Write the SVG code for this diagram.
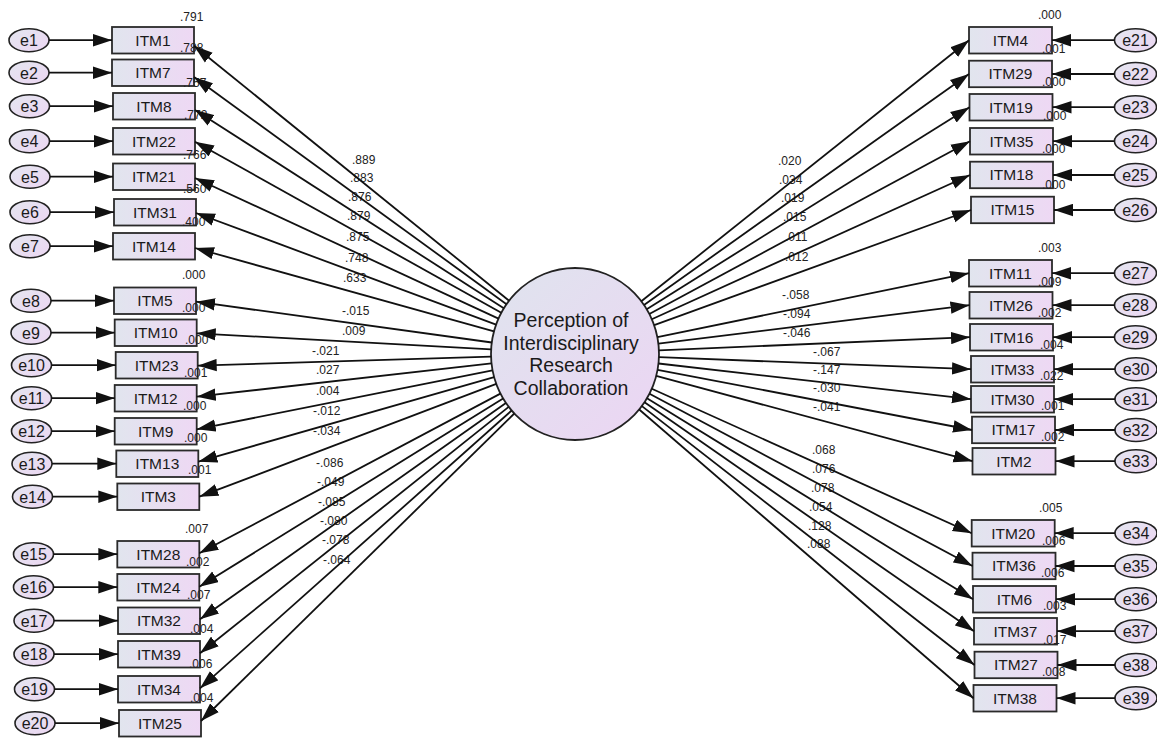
<svg xmlns="http://www.w3.org/2000/svg" width="1157" height="740" viewBox="0 0 1157 740">
<defs>
<linearGradient id="gBox" x1="0" y1="0" x2="1" y2="0"><stop offset="0" stop-color="#e1e5ee"/><stop offset="1" stop-color="#eed8f4"/></linearGradient>
<linearGradient id="gCirc" x1="0" y1="0" x2="1" y2="1"><stop offset="0" stop-color="#dfe4ee"/><stop offset="1" stop-color="#ecd5f3"/></linearGradient>
<linearGradient id="gErr" x1="0" y1="0" x2="1" y2="1"><stop offset="0" stop-color="#e4e6f0"/><stop offset="1" stop-color="#ecd6f2"/></linearGradient>
<marker id="ah" markerUnits="userSpaceOnUse" markerWidth="19" markerHeight="13" refX="19" refY="6.5" orient="auto"><path d="M0,0.3 L19,6.5 L0,12.7 z" fill="#111"/></marker>
<style>
.box{fill:url(#gBox);stroke:#2a2a2a;stroke-width:1.8}
.err{fill:url(#gErr);stroke:#222;stroke-width:1.6}
.lat{fill:url(#gCirc);stroke:#222;stroke-width:1.8}
.t{font-family:"Liberation Sans",Arial,sans-serif;font-size:15.5px;fill:#1a1a1a;text-anchor:middle}
.te{font-family:"Liberation Sans",Arial,sans-serif;font-size:16px;fill:#1a1a1a;text-anchor:middle}
.tl{font-family:"Liberation Sans",Arial,sans-serif;font-size:19.5px;fill:#1a1a1a;text-anchor:middle}
.n{font-family:"Liberation Sans",Arial,sans-serif;font-size:12px;fill:#222}
.c line{stroke:#111;stroke-width:1.8;marker-end:url(#ah)}
</style>
</defs>
<rect width="1157" height="740" fill="#fff"/>

<g id="F1">
<ellipse class="lat" cx="575" cy="354" rx="84" ry="86"/>
<text class="tl" x="571" y="327">Perception of</text>
<text class="tl" x="571" y="349.5">Interdisciplinary</text>
<text class="tl" x="571" y="372">Research</text>
<text class="tl" x="571" y="394.5">Collaboration</text>
</g>

<!-- left observed -->
<g id="ITM1"><rect class="box" x="112" y="27" width="82" height="26.5"/><text class="t" x="153" y="45.7">ITM1</text><text class="n" x="180" y="21">.791</text></g>
<g id="ITM7"><rect class="box" x="112" y="59.5" width="82" height="26.5"/><text class="t" x="153" y="78.2">ITM7</text><text class="n" x="180" y="52">.788</text></g>
<g id="ITM8"><rect class="box" x="113" y="93" width="82" height="26.5"/><text class="t" x="154" y="111.7">ITM8</text><text class="n" x="183" y="87">.757</text></g>
<g id="ITM22"><rect class="box" x="113" y="128" width="82" height="26.5"/><text class="t" x="154" y="146.7">ITM22</text><text class="n" x="184" y="119">.772</text></g>
<g id="ITM21"><rect class="box" x="113" y="163.5" width="82" height="26.5"/><text class="t" x="154" y="182.2">ITM21</text><text class="n" x="183" y="159">.766</text></g>
<g id="ITM31"><rect class="box" x="114" y="199" width="82" height="26.5"/><text class="t" x="155" y="217.7">ITM31</text><text class="n" x="183" y="193">.560</text></g>
<g id="ITM14"><rect class="box" x="113" y="233" width="82" height="26.5"/><text class="t" x="154" y="251.7">ITM14</text><text class="n" x="182" y="226">.400</text></g>
<g id="ITM5"><rect class="box" x="114" y="287.5" width="82" height="26.5"/><text class="t" x="155" y="306.2">ITM5</text><text class="n" x="182" y="279">.000</text></g>
<g id="ITM10"><rect class="box" x="114.7" y="319.5" width="82" height="26.5"/><text class="t" x="155.7" y="338.2">ITM10</text><text class="n" x="182" y="312">.000</text></g>
<g id="ITM23"><rect class="box" x="115.7" y="352" width="82" height="26.5"/><text class="t" x="156.7" y="370.7">ITM23</text><text class="n" x="185" y="344">.000</text></g>
<g id="ITM12"><rect class="box" x="114.7" y="385" width="82" height="26.5"/><text class="t" x="155.7" y="403.7">ITM12</text><text class="n" x="184" y="377">.001</text></g>
<g id="ITM9"><rect class="box" x="114.7" y="418" width="82" height="26.5"/><text class="t" x="155.7" y="436.7">ITM9</text><text class="n" x="183" y="410">.000</text></g>
<g id="ITM13"><rect class="box" x="116.3" y="450.5" width="82" height="26.5"/><text class="t" x="157.3" y="469.2">ITM13</text><text class="n" x="184" y="442">.000</text></g>
<g id="ITM3"><rect class="box" x="117.3" y="483.5" width="82" height="26.5"/><text class="t" x="158.3" y="502.2">ITM3</text><text class="n" x="188" y="474">.001</text></g>
<g id="ITM28"><rect class="box" x="117.3" y="541" width="82" height="26.5"/><text class="t" x="158.3" y="559.7">ITM28</text><text class="n" x="185" y="533">.007</text></g>
<g id="ITM24"><rect class="box" x="117.3" y="574" width="82" height="26.5"/><text class="t" x="158.3" y="592.7">ITM24</text><text class="n" x="186" y="566">.002</text></g>
<g id="ITM32"><rect class="box" x="118" y="607.5" width="82" height="26.5"/><text class="t" x="159" y="626.2">ITM32</text><text class="n" x="187" y="599">.007</text></g>
<g id="ITM39"><rect class="box" x="118" y="641" width="82" height="26.5"/><text class="t" x="159" y="659.7">ITM39</text><text class="n" x="190" y="633">.004</text></g>
<g id="ITM34"><rect class="box" x="118" y="676" width="82" height="26.5"/><text class="t" x="159" y="694.7">ITM34</text><text class="n" x="189" y="668">.006</text></g>
<g id="ITM25"><rect class="box" x="119" y="710" width="82" height="26.5"/><text class="t" x="160" y="728.7">ITM25</text><text class="n" x="190" y="702">.004</text></g>

<!-- left errors -->
<g id="e1"><ellipse class="err" cx="29" cy="40.2" rx="20" ry="11.5"/><text class="te" x="29" y="46">e1</text></g>
<g id="e2"><ellipse class="err" cx="29" cy="72.7" rx="20" ry="11.5"/><text class="te" x="29" y="78.5">e2</text></g>
<g id="e3"><ellipse class="err" cx="29.5" cy="106.2" rx="20" ry="11.5"/><text class="te" x="29.5" y="112">e3</text></g>
<g id="e4"><ellipse class="err" cx="29.5" cy="141.2" rx="20" ry="11.5"/><text class="te" x="29.5" y="147">e4</text></g>
<g id="e5"><ellipse class="err" cx="30" cy="176.7" rx="20" ry="11.5"/><text class="te" x="30" y="182.5">e5</text></g>
<g id="e6"><ellipse class="err" cx="30" cy="212.2" rx="20" ry="11.5"/><text class="te" x="30" y="218">e6</text></g>
<g id="e7"><ellipse class="err" cx="30" cy="246.2" rx="20" ry="11.5"/><text class="te" x="30" y="252">e7</text></g>
<g id="e8"><ellipse class="err" cx="31" cy="300.7" rx="20" ry="11.5"/><text class="te" x="31" y="306.5">e8</text></g>
<g id="e9"><ellipse class="err" cx="31" cy="332.7" rx="20" ry="11.5"/><text class="te" x="31" y="338.5">e9</text></g>
<g id="e10"><ellipse class="err" cx="31.5" cy="365.2" rx="20" ry="11.5"/><text class="te" x="31.5" y="371">e10</text></g>
<g id="e11"><ellipse class="err" cx="31.5" cy="398.2" rx="20" ry="11.5"/><text class="te" x="31.5" y="404">e11</text></g>
<g id="e12"><ellipse class="err" cx="31.5" cy="431.2" rx="20" ry="11.5"/><text class="te" x="31.5" y="437">e12</text></g>
<g id="e13"><ellipse class="err" cx="32" cy="463.7" rx="20" ry="11.5"/><text class="te" x="32" y="469.5">e13</text></g>
<g id="e14"><ellipse class="err" cx="32.5" cy="496.7" rx="20" ry="11.5"/><text class="te" x="32.5" y="502.5">e14</text></g>
<g id="e15"><ellipse class="err" cx="33.5" cy="554.2" rx="20" ry="11.5"/><text class="te" x="33.5" y="560">e15</text></g>
<g id="e16"><ellipse class="err" cx="33.5" cy="587.2" rx="20" ry="11.5"/><text class="te" x="33.5" y="593">e16</text></g>
<g id="e17"><ellipse class="err" cx="34" cy="620.7" rx="20" ry="11.5"/><text class="te" x="34" y="626.5">e17</text></g>
<g id="e18"><ellipse class="err" cx="34" cy="654.2" rx="20" ry="11.5"/><text class="te" x="34" y="660">e18</text></g>
<g id="e19"><ellipse class="err" cx="34.5" cy="689.2" rx="20" ry="11.5"/><text class="te" x="34.5" y="695">e19</text></g>
<g id="e20"><ellipse class="err" cx="35" cy="723.2" rx="20" ry="11.5"/><text class="te" x="35" y="729">e20</text></g>

<!-- right observed -->
<g id="ITM4"><rect class="box" x="969" y="27" width="83" height="26.5"/><text class="t" x="1010.5" y="45.7">ITM4</text><text class="n" x="1038" y="19">.000</text></g>
<g id="ITM29"><rect class="box" x="969" y="60.7" width="83" height="26.5"/><text class="t" x="1010.5" y="79.4">ITM29</text><text class="n" x="1042" y="53">.001</text></g>
<g id="ITM19"><rect class="box" x="969.5" y="94" width="83" height="26.5"/><text class="t" x="1011" y="112.7">ITM19</text><text class="n" x="1042" y="86">.000</text></g>
<g id="ITM35"><rect class="box" x="970" y="128" width="83" height="26.5"/><text class="t" x="1011.5" y="146.7">ITM35</text><text class="n" x="1043" y="120">.000</text></g>
<g id="ITM18"><rect class="box" x="970" y="161.7" width="83" height="26.5"/><text class="t" x="1011.5" y="180.4">ITM18</text><text class="n" x="1042" y="153">.000</text></g>
<g id="ITM15"><rect class="box" x="971" y="196.7" width="83" height="26.5"/><text class="t" x="1012.5" y="215.4">ITM15</text><text class="n" x="1042" y="189">.000</text></g>
<g id="ITM11"><rect class="box" x="969" y="260" width="83" height="26.5"/><text class="t" x="1010.5" y="278.7">ITM11</text><text class="n" x="1038" y="252">.003</text></g>
<g id="ITM26"><rect class="box" x="969.5" y="292" width="83" height="26.5"/><text class="t" x="1011" y="310.7">ITM26</text><text class="n" x="1038" y="286">.009</text></g>
<g id="ITM16"><rect class="box" x="970" y="324" width="83" height="26.5"/><text class="t" x="1011.5" y="342.7">ITM16</text><text class="n" x="1038" y="317">.002</text></g>
<g id="ITM33"><rect class="box" x="971" y="356" width="83" height="26.5"/><text class="t" x="1012.5" y="374.7">ITM33</text><text class="n" x="1040" y="349">.004</text></g>
<g id="ITM30"><rect class="box" x="971" y="386" width="83" height="26.5"/><text class="t" x="1012.5" y="404.7">ITM30</text><text class="n" x="1040" y="380">.022</text></g>
<g id="ITM17"><rect class="box" x="972" y="416.7" width="83" height="26.5"/><text class="t" x="1013.5" y="435.4">ITM17</text><text class="n" x="1041" y="410">.001</text></g>
<g id="ITM2"><rect class="box" x="972.5" y="448" width="83" height="26.5"/><text class="t" x="1014" y="466.7">ITM2</text><text class="n" x="1041" y="441">.002</text></g>
<g id="ITM20"><rect class="box" x="971.7" y="520" width="83" height="26.5"/><text class="t" x="1013.2" y="538.7">ITM20</text><text class="n" x="1039" y="512">.005</text></g>
<g id="ITM36"><rect class="box" x="972.5" y="552.7" width="83" height="26.5"/><text class="t" x="1014" y="571.4">ITM36</text><text class="n" x="1042" y="545">.006</text></g>
<g id="ITM6"><rect class="box" x="973" y="586" width="83" height="26.5"/><text class="t" x="1014.5" y="604.7">ITM6</text><text class="n" x="1041" y="577">.006</text></g>
<g id="ITM37"><rect class="box" x="974" y="618" width="83" height="26.5"/><text class="t" x="1015.5" y="636.7">ITM37</text><text class="n" x="1043" y="610">.003</text></g>
<g id="ITM27"><rect class="box" x="974.5" y="651.7" width="83" height="26.5"/><text class="t" x="1016" y="670.4">ITM27</text><text class="n" x="1043" y="644">.017</text></g>
<g id="ITM38"><rect class="box" x="973.5" y="685" width="83" height="26.5"/><text class="t" x="1015" y="703.7">ITM38</text><text class="n" x="1042" y="676">.008</text></g>

<!-- right errors -->
<g id="e21"><ellipse class="err" cx="1135.5" cy="40.2" rx="21" ry="11.5"/><text class="te" x="1135.5" y="46">e21</text></g>
<g id="e22"><ellipse class="err" cx="1135.5" cy="74" rx="21" ry="11.5"/><text class="te" x="1135.5" y="79.8">e22</text></g>
<g id="e23"><ellipse class="err" cx="1135.5" cy="107.2" rx="21" ry="11.5"/><text class="te" x="1135.5" y="113">e23</text></g>
<g id="e24"><ellipse class="err" cx="1135.5" cy="141.2" rx="21" ry="11.5"/><text class="te" x="1135.5" y="147">e24</text></g>
<g id="e25"><ellipse class="err" cx="1135.5" cy="175" rx="21" ry="11.5"/><text class="te" x="1135.5" y="180.8">e25</text></g>
<g id="e26"><ellipse class="err" cx="1135.5" cy="210" rx="21" ry="11.5"/><text class="te" x="1135.5" y="215.8">e26</text></g>
<g id="e27"><ellipse class="err" cx="1135.5" cy="273.2" rx="21" ry="11.5"/><text class="te" x="1135.5" y="279">e27</text></g>
<g id="e28"><ellipse class="err" cx="1135.5" cy="305.2" rx="21" ry="11.5"/><text class="te" x="1135.5" y="311">e28</text></g>
<g id="e29"><ellipse class="err" cx="1135.5" cy="337.2" rx="21" ry="11.5"/><text class="te" x="1135.5" y="343">e29</text></g>
<g id="e30"><ellipse class="err" cx="1136" cy="369.2" rx="21" ry="11.5"/><text class="te" x="1136" y="375">e30</text></g>
<g id="e31"><ellipse class="err" cx="1136" cy="399.2" rx="21" ry="11.5"/><text class="te" x="1136" y="405">e31</text></g>
<g id="e32"><ellipse class="err" cx="1136" cy="430" rx="21" ry="11.5"/><text class="te" x="1136" y="435.8">e32</text></g>
<g id="e33"><ellipse class="err" cx="1136" cy="461.2" rx="21" ry="11.5"/><text class="te" x="1136" y="467">e33</text></g>
<g id="e34"><ellipse class="err" cx="1136" cy="533.2" rx="21" ry="11.5"/><text class="te" x="1136" y="539">e34</text></g>
<g id="e35"><ellipse class="err" cx="1136" cy="566" rx="21" ry="11.5"/><text class="te" x="1136" y="571.8">e35</text></g>
<g id="e36"><ellipse class="err" cx="1136" cy="599.2" rx="21" ry="11.5"/><text class="te" x="1136" y="605">e36</text></g>
<g id="e37"><ellipse class="err" cx="1136" cy="631.2" rx="21" ry="11.5"/><text class="te" x="1136" y="637">e37</text></g>
<g id="e38"><ellipse class="err" cx="1136" cy="665" rx="21" ry="11.5"/><text class="te" x="1136" y="670.8">e38</text></g>
<g id="e39"><ellipse class="err" cx="1136" cy="698.2" rx="21" ry="11.5"/><text class="te" x="1136" y="704">e39</text></g>

<!-- path coefficients -->
<g id="coefficients">
<text class="n" x="352" y="164">.889</text><text class="n" x="350" y="182">.883</text><text class="n" x="348" y="201">.876</text><text class="n" x="347" y="220">.879</text><text class="n" x="346" y="241">.875</text><text class="n" x="345" y="262">.748</text><text class="n" x="343" y="282">.633</text>
<text class="n" x="342" y="315">-.015</text><text class="n" x="342" y="335">.009</text><text class="n" x="312" y="355">-.021</text><text class="n" x="316" y="374">.027</text><text class="n" x="316" y="395">.004</text><text class="n" x="313" y="415">-.012</text><text class="n" x="313" y="435">-.034</text>
<text class="n" x="316" y="467">-.086</text><text class="n" x="317" y="486">-.049</text><text class="n" x="318" y="506">-.085</text><text class="n" x="320" y="525">-.080</text><text class="n" x="322" y="544">-.078</text><text class="n" x="323" y="564">-.064</text>
<text class="n" x="778" y="165">.020</text><text class="n" x="779" y="184">.034</text><text class="n" x="781" y="202">.019</text><text class="n" x="783" y="221">.015</text><text class="n" x="785" y="241">.011</text><text class="n" x="785" y="261">.012</text>
<text class="n" x="782" y="299">-.058</text><text class="n" x="783" y="318">-.094</text><text class="n" x="783" y="337">-.046</text><text class="n" x="813" y="356">-.067</text><text class="n" x="813" y="374">-.147</text><text class="n" x="813" y="392">-.030</text><text class="n" x="813" y="411">-.041</text>
<text class="n" x="812" y="454">.068</text><text class="n" x="812" y="473">.076</text><text class="n" x="811" y="492">.078</text><text class="n" x="809" y="511">.054</text><text class="n" x="808" y="530">.128</text><text class="n" x="807" y="548">.088</text>
</g>

<g id="connectors" class="c">
<!-- latent to left items -->
<line x1="509.1" y1="300.7" x2="194" y2="45.7"/>
<line x1="506.5" y1="304.2" x2="194" y2="77"/>
<line x1="503.8" y1="308.3" x2="195" y2="110"/>
<line x1="501.3" y1="312.8" x2="195" y2="141.7"/>
<line x1="498.5" y1="318.6" x2="195" y2="178"/>
<line x1="496.1" y1="324.6" x2="196" y2="213"/>
<line x1="494" y1="331.4" x2="195" y2="248"/>
<line x1="491.8" y1="342.5" x2="196" y2="301.7"/>
<line x1="491.1" y1="349.4" x2="196.7" y2="333.3"/>
<line x1="491" y1="356.6" x2="197.7" y2="365.7"/>
<line x1="491.5" y1="363.4" x2="196.7" y2="396.7"/>
<line x1="492.5" y1="370.4" x2="196.7" y2="429.3"/>
<line x1="494.1" y1="377.1" x2="198.3" y2="461.7"/>
<line x1="496.3" y1="383.9" x2="199.3" y2="496.7"/>
<line x1="500.4" y1="393.6" x2="199.3" y2="553.3"/>
<line x1="503.1" y1="398.5" x2="199.3" y2="586.7"/>
<line x1="505.9" y1="402.9" x2="200" y2="619.3"/>
<line x1="508.7" y1="406.9" x2="200" y2="653.3"/>
<line x1="511.6" y1="410.5" x2="200" y2="688.3"/>
<line x1="514.3" y1="413.5" x2="201" y2="721"/>
<!-- latent to right items -->
<line x1="641.3" y1="301.2" x2="969" y2="40.2"/>
<line x1="644" y1="305" x2="969" y2="74"/>
<line x1="646.7" y1="309.2" x2="969.5" y2="107.2"/>
<line x1="649.3" y1="314" x2="970" y2="141.2"/>
<line x1="651.8" y1="319.2" x2="970" y2="175"/>
<line x1="654.2" y1="325.2" x2="971" y2="210"/>
<line x1="657.4" y1="337.1" x2="969" y2="273.2"/>
<line x1="658.4" y1="343.7" x2="969.5" y2="305.2"/>
<line x1="658.9" y1="350.4" x2="970" y2="337.2"/>
<line x1="659" y1="357.2" x2="971" y2="369.2"/>
<line x1="658.5" y1="363.5" x2="971" y2="399.2"/>
<line x1="657.6" y1="369.8" x2="972" y2="430"/>
<line x1="656.2" y1="375.9" x2="972.5" y2="461.2"/>
<line x1="651.8" y1="388.7" x2="971.7" y2="533.2"/>
<line x1="649.5" y1="393.7" x2="972.5" y2="566"/>
<line x1="647" y1="398.3" x2="973" y2="599.2"/>
<line x1="644.5" y1="402.3" x2="974" y2="631.2"/>
<line x1="641.9" y1="406.1" x2="974.5" y2="665"/>
<line x1="639.2" y1="409.5" x2="973.5" y2="698.2"/>
<!-- left errors to items -->
<line x1="49" y1="40.2" x2="112" y2="40.2"/>
<line x1="49" y1="72.7" x2="112" y2="72.7"/>
<line x1="49.5" y1="106.2" x2="113" y2="106.2"/>
<line x1="49.5" y1="141.2" x2="113" y2="141.2"/>
<line x1="50" y1="176.7" x2="113" y2="176.7"/>
<line x1="50" y1="212.2" x2="114" y2="212.2"/>
<line x1="50" y1="246.2" x2="113" y2="246.2"/>
<line x1="51" y1="300.7" x2="114" y2="300.7"/>
<line x1="51" y1="332.7" x2="114.7" y2="332.7"/>
<line x1="51.5" y1="365.2" x2="115.7" y2="365.2"/>
<line x1="51.5" y1="398.2" x2="114.7" y2="398.2"/>
<line x1="51.5" y1="431.2" x2="114.7" y2="431.2"/>
<line x1="52" y1="463.7" x2="116.3" y2="463.7"/>
<line x1="52.5" y1="496.7" x2="117.3" y2="496.7"/>
<line x1="53.5" y1="554.2" x2="117.3" y2="554.2"/>
<line x1="53.5" y1="587.2" x2="117.3" y2="587.2"/>
<line x1="54" y1="620.7" x2="118" y2="620.7"/>
<line x1="54" y1="654.2" x2="118" y2="654.2"/>
<line x1="54.5" y1="689.2" x2="118" y2="689.2"/>
<line x1="55" y1="723.2" x2="119" y2="723.2"/>
<!-- right errors to items -->
<line x1="1114.5" y1="40.2" x2="1052" y2="40.2"/>
<line x1="1114.5" y1="74" x2="1052" y2="74"/>
<line x1="1114.5" y1="107.2" x2="1052.5" y2="107.2"/>
<line x1="1114.5" y1="141.2" x2="1053" y2="141.2"/>
<line x1="1114.5" y1="175" x2="1053" y2="175"/>
<line x1="1114.5" y1="210" x2="1054" y2="210"/>
<line x1="1114.5" y1="273.2" x2="1052" y2="273.2"/>
<line x1="1114.5" y1="305.2" x2="1052.5" y2="305.2"/>
<line x1="1114.5" y1="337.2" x2="1053" y2="337.2"/>
<line x1="1115" y1="369.2" x2="1054" y2="369.2"/>
<line x1="1115" y1="399.2" x2="1054" y2="399.2"/>
<line x1="1115" y1="430" x2="1055" y2="430"/>
<line x1="1115" y1="461.2" x2="1055.5" y2="461.2"/>
<line x1="1115" y1="533.2" x2="1054.7" y2="533.2"/>
<line x1="1115" y1="566" x2="1055.5" y2="566"/>
<line x1="1115" y1="599.2" x2="1056" y2="599.2"/>
<line x1="1115" y1="631.2" x2="1057" y2="631.2"/>
<line x1="1115" y1="665" x2="1057.5" y2="665"/>
<line x1="1115" y1="698.2" x2="1056.5" y2="698.2"/>
</g>
</svg>
